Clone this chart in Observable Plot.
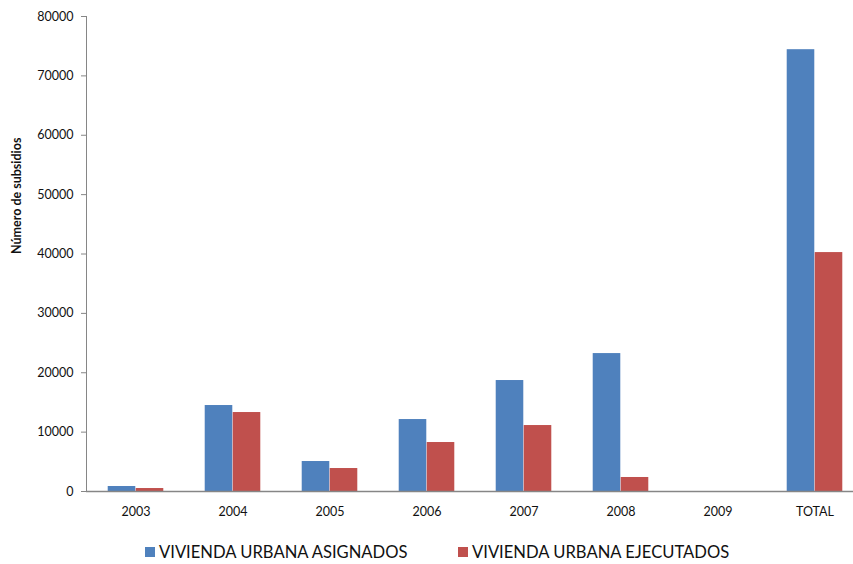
<!DOCTYPE html>
<html>
<head>
<meta charset="utf-8">
<script src="https://cdn.jsdelivr.net/npm/d3@7"></script>
<script src="https://cdn.jsdelivr.net/npm/@observablehq/plot@0.6"></script>
<style>
  html, body { margin: 0; padding: 0; background: #fff; }
  #wrap { position: relative; width: 853px; height: 564px; font-family: Lato, "Open Sans", sans-serif; }
  #legend { position: relative; height: 29px; font-size: 16.6px; color: #111; }
  .item { position: absolute; top: 7px; display: flex; align-items: center; white-space: nowrap; }
  .sw { width: 10px; height: 10px; margin-right: 4px; display: inline-block; }
</style>
</head>
<body>
<div id="wrap">
  <div id="chart"></div>
  <div id="legend"></div>
</div>
<script>
const categories = ["2003", "2004", "2005", "2006", "2007", "2008", "2009", "TOTAL"];
const asignados = [840, 14480, 5050, 12120, 18690, 23230, 0, 74410];
const ejecutados = [500, 13300, 3870, 8250, 11110, 2360, 0, 40240];
const seriesNames = ["VIVIENDA URBANA ASIGNADOS", "VIVIENDA URBANA EJECUTADOS"];
const seriesColors = ["#4F81BD", "#C0504D"];
const yTicks = [0, 10000, 20000, 30000, 40000, 50000, 60000, 70000, 80000];

const dataA = categories.map((c, i) => ({category: c, value: asignados[i]}));
const dataE = categories.map((c, i) => ({category: c, value: ejecutados[i]}));

const W = 853, H = 535;
const band = (864.7 - 85.3) / categories.length;
const barW = 28;
const half = band / 2;

const chart = Plot.plot({
  width: W,
  height: H,
  marginLeft: 86,
  marginRight: 0,
  marginTop: 16,
  marginBottom: 44,
  style: {fontFamily: "Lato, 'Open Sans', sans-serif", fontSize: "12.5px", color: "#111", background: "#fff"},
  x: {domain: categories, range: [85.3, 864.7], padding: 0},
  y: {domain: [0, 80000]},
  marks: [
    Plot.barY(dataA, {x: "category", y: "value", fill: seriesColors[0], insetLeft: half - barW, insetRight: half}),
    Plot.barY(dataE, {x: "category", y: "value", fill: seriesColors[1], insetLeft: half, insetRight: half - barW}),
    Plot.ruleY([0], {stroke: "#868686", strokeWidth: 1.3}),
    Plot.frame({anchor: "left", stroke: "#868686"}),
    Plot.axisY({ticks: yTicks, tickFormat: "d", tickSize: 5, tickPadding: 8, stroke: "#868686", label: null, fill: "#111"}),
    Plot.axisX({tickSize: 0, tickPadding: 16, label: null, fill: "#111"}),
    Plot.text(["Número de subsidios"], {frameAnchor: "left", dx: -70, rotate: -90, fontWeight: "bold", fontSize: 12.5, fill: "#111"})
  ]
});
document.getElementById("chart").appendChild(chart);

const legend = document.getElementById("legend");
const lefts = [145, 458];
seriesNames.forEach((name, i) => {
  const it = document.createElement("div");
  it.className = "item";
  it.style.left = lefts[i] + "px";
  const sw = document.createElement("span");
  sw.className = "sw";
  sw.style.background = seriesColors[i];
  const tx = document.createElement("span");
  tx.textContent = name;
  it.appendChild(sw);
  it.appendChild(tx);
  legend.appendChild(it);
});
</script>
</body>
</html>
